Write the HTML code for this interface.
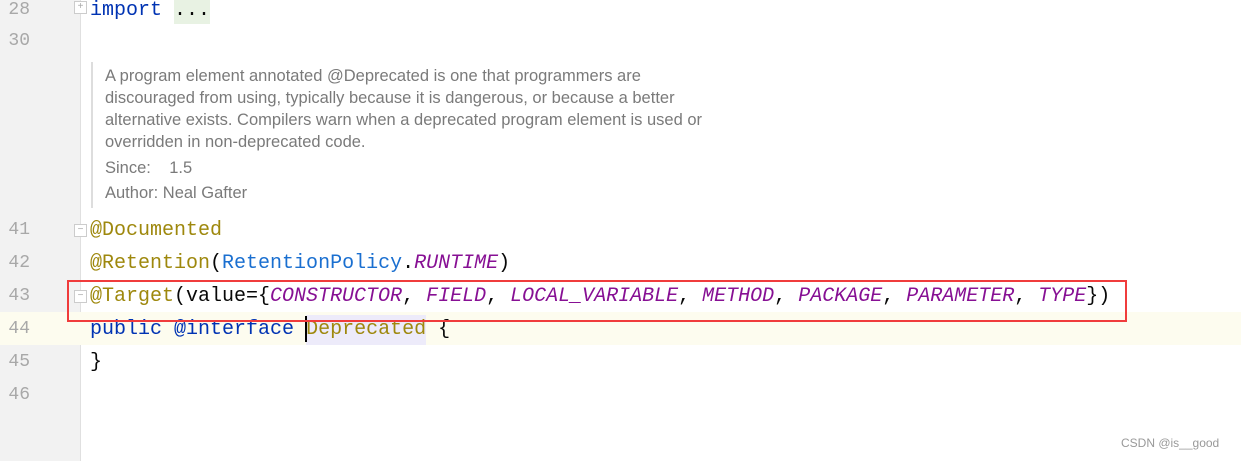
<!DOCTYPE html>
<html><head><meta charset="utf-8"><style>
body{margin:0;width:1241px;height:461px;background:#fff;position:relative;overflow:hidden;font-family:"Liberation Mono",monospace}
.g{position:absolute;left:0;top:0;width:80px;height:461px;background:#f2f2f2;border-right:1px solid #e0e0e0}
.hl{position:absolute;left:0;top:312px;width:1241px;height:33px;background:#fdfcef}
.n{position:absolute;left:6px;width:24px;text-align:right;color:#a8a8a8;font-size:18px;line-height:20px}
.c{position:absolute;left:90px;font-size:20px;line-height:24px;white-space:pre;color:#080808}
.a{color:#9e880d}.k{color:#0033b3}.b{color:#1a6fd0}.p{color:#871094;font-style:italic}
.doc{position:absolute;left:91px;top:62px;height:143px;border-left:2px solid #ddd;padding-left:12px;padding-top:3px;font-family:"Liberation Sans",sans-serif;font-size:16.5px;line-height:22px;color:#7a7a7a}
.f{position:absolute;left:74px;width:11px;height:11px;border:1px solid #ccc;background:#fff;font-size:10px;line-height:10px;text-align:center;color:#aaa;font-family:'Liberation Sans'}
</style></head><body>
<div class="g"></div>
<div class="hl"></div>
<div class="n" style="top:0">28</div>
<div class="n" style="top:31px">30</div>
<div class="n" style="top:220px">41</div>
<div class="n" style="top:253px">42</div>
<div class="n" style="top:286px">43</div>
<div class="n" style="top:319px">44</div>
<div class="n" style="top:352px">45</div>
<div class="n" style="top:385px">46</div>
<div class="f" style="top:1px">+</div>
<div class="f" style="top:224px">−</div>
<div class="f" style="top:290px">−</div>
<div style="position:absolute;left:174px;top:0;width:36px;height:24px;background:#e8f2e3"></div>
<div class="c" style="top:-1px"><span class="k">import</span> ...</div>
<div class="doc">A program element annotated @Deprecated is one that programmers are<br>discouraged from using, typically because it is dangerous, or because a better<br>alternative exists. Compilers warn when a deprecated program element is used or<br>overridden in non-deprecated code.<div style="margin-top:4px">Since:&nbsp;&nbsp;&nbsp;&nbsp;1.5</div><div style="margin-top:3px">Author: Neal Gafter</div></div>
<div class="c" style="top:219px"><span class="a">@Documented</span></div>
<div class="c" style="top:252px"><span class="a">@Retention</span>(<span class="b">RetentionPolicy</span>.<span class="p">RUNTIME</span>)</div>
<div class="c" style="top:285px"><span class="a">@Target</span>(value={<span class="p">CONSTRUCTOR</span>, <span class="p">FIELD</span>, <span class="p">LOCAL_VARIABLE</span>, <span class="p">METHOD</span>, <span class="p">PACKAGE</span>, <span class="p">PARAMETER</span>, <span class="p">TYPE</span>})</div>
<div style="position:absolute;left:306px;top:315px;width:120px;height:30px;background:#edebfa"></div>
<div style="position:absolute;left:305px;top:316px;width:2px;height:26px;background:#000"></div>
<div class="c" style="top:318px"><span class="k">public @interface</span> <span class="a">Deprecated</span> {</div>
<div class="c" style="top:351px">}</div>
<div style="position:absolute;left:67px;top:280px;width:1056px;height:38px;border:2px solid #f03c3c"></div>
<div style="position:absolute;left:1121px;top:436px;font-family:'Liberation Sans',sans-serif;font-size:12px;color:#999">CSDN @is__good</div>
</body></html>
